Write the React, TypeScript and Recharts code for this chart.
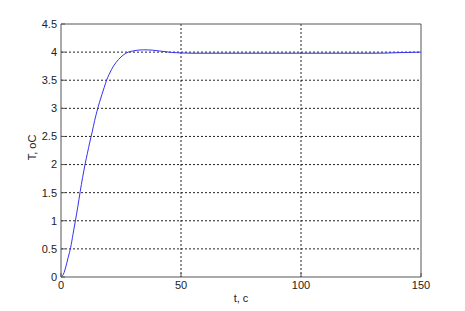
import { LineChart, Line, XAxis, YAxis, CartesianGrid, ReferenceLine } from 'recharts'

// time, s
const tValues = [
  0, 1, 2, 3, 4, 5, 6, 7, 8, 9, 10, 11, 12, 13, 14, 15, 16, 17, 18, 19, 20,
  22, 24, 26, 28, 30, 32, 34, 36, 38, 40, 42, 44, 46, 48, 50, 55, 60, 70, 80,
  90, 100, 110, 120, 130, 135, 140, 145, 150,
]
// temperature, oC
const tempValues = [
  0, 0.05, 0.18, 0.35, 0.52, 0.76, 1.0, 1.25, 1.52, 1.77, 2.0, 2.2, 2.4, 2.58,
  2.78, 2.95, 3.1, 3.24, 3.37, 3.5, 3.6, 3.76, 3.87, 3.95, 4.0, 4.02, 4.035,
  4.04, 4.04, 4.035, 4.025, 4.015, 4.005, 3.995, 3.99, 3.985, 3.98, 3.98, 3.98,
  3.98, 3.98, 3.98, 3.98, 3.98, 3.98, 3.982, 3.99, 3.995, 4.0,
]
const xTicks = [0, 50, 100, 150]
const yTicks = [0, 0.5, 1, 1.5, 2, 2.5, 3, 3.5, 4, 4.5]
// grid only between the box edges
const xGrid = [50, 100]
const yGrid = [0.5, 1, 1.5, 2, 2.5, 3, 3.5, 4]

const data = tValues.map((t, i) => ({ t, T: tempValues[i] }))

const FONT = 'Arial, "Liberation Sans", Helvetica, sans-serif'
const AXIS = '#555'
const tickStyle = { fill: '#222', fontSize: 11, fontFamily: FONT }

export default function App() {
  return (
    <div style={{ position: 'absolute', left: 0, top: 0, background: '#fff' }}>
      <LineChart
        width={465}
        height={311}
        data={data}
        margin={{ top: 24, right: 44, bottom: 4, left: 21 }}
      >
        <CartesianGrid
          stroke="#222"
          strokeDasharray="2 2"
          verticalValues={xGrid}
          horizontalValues={yGrid}
        />
        <XAxis
          dataKey="t"
          type="number"
          domain={[0, 150]}
          ticks={xTicks}
          height={30}
          tickSize={-4}
          tickMargin={8}
          stroke={AXIS}
          tick={tickStyle}
          label={{ value: 't, c', position: 'insideBottom', offset: 5, style: tickStyle }}
        />
        <YAxis
          type="number"
          domain={[0, 4.5]}
          ticks={yTicks}
          width={40}
          tickSize={-4}
          tickMargin={8}
          stroke={AXIS}
          tick={tickStyle}
          label={{
            value: 'T, oC',
            angle: -90,
            position: 'insideLeft',
            offset: 11,
            dy: -3,
            style: { ...tickStyle, textAnchor: 'middle' },
          }}
        />
        {/* box: top and right edges */}
        <ReferenceLine y={4.5} stroke={AXIS} strokeWidth={1} />
        <ReferenceLine x={150} stroke={AXIS} strokeWidth={1} />
        <Line
          type="monotone"
          dataKey="T"
          stroke="#3333ee"
          strokeWidth={1}
          dot={false}
          isAnimationActive={false}
        />
      </LineChart>
    </div>
  )
}
